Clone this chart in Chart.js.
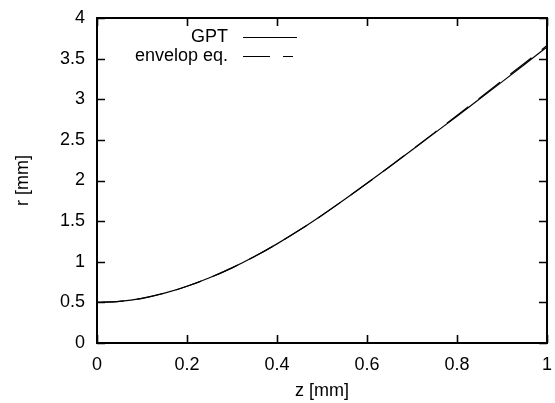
<!DOCTYPE html>
<html>
<head>
<meta charset="utf-8">
<script src="https://cdn.jsdelivr.net/npm/chart.js@4/dist/chart.umd.min.js"></script>
<style>
  html, body { margin: 0; padding: 0; background: #fff; }
  #wrap { width: 555px; height: 403px; }
</style>
</head>
<body>
<div id="wrap"><canvas id="grafico"></canvas></div>
<script>
'use strict';

// beam radius along z (mm)
const zVals = [0, 0.05, 0.1, 0.15, 0.2, 0.25, 0.3, 0.35, 0.4, 0.45, 0.5,
               0.55, 0.6, 0.65, 0.7, 0.75, 0.8, 0.85, 0.9, 0.95, 1];
const rGpt = [0.500, 0.513, 0.550, 0.613, 0.698, 0.803, 0.925, 1.065, 1.220, 1.390, 1.573,
              1.765, 1.965, 2.169, 2.375, 2.583, 2.792, 3.002, 3.214, 3.428, 3.643];
const rEnv = [0.500, 0.513, 0.550, 0.613, 0.698, 0.803, 0.925, 1.065, 1.220, 1.390, 1.573,
              1.765, 1.965, 2.169, 2.378, 2.589, 2.801, 3.014, 3.228, 3.444, 3.661];

const xTicks = [0, 0.2, 0.4, 0.6, 0.8, 1];
const yTicks = [0, 0.5, 1, 1.5, 2, 2.5, 3, 3.5, 4];

const legendItems = ['GPT', 'envelop eq.'];

const FONT = { family: "'Liberation Sans', Arial, sans-serif", size: 18 };

function toPoints(xs, ys) {
  return xs.map((x, i) => ({ x: x, y: ys[i] }));
}

// box round the plot, tick marks pointing inwards on all four sides, gnuplot-like key
const framePlugin = {
  id: 'frame',
  afterDraw(chart) {
    const ctx = chart.ctx;
    const { left, right, top, bottom } = chart.chartArea;
    const sx = chart.scales.x, sy = chart.scales.y;
    const tl = 8;

    ctx.save();
    ctx.strokeStyle = '#000';
    ctx.lineWidth = 1.6;
    ctx.beginPath();
    xTicks.forEach(v => {
      const px = Math.round(sx.getPixelForValue(v)) + 0.5;
      ctx.moveTo(px, bottom); ctx.lineTo(px, bottom - tl);
      ctx.moveTo(px, top); ctx.lineTo(px, top + tl);
    });
    yTicks.forEach(v => {
      const py = Math.round(sy.getPixelForValue(v)) + 0.5;
      ctx.moveTo(left, py); ctx.lineTo(left + tl, py);
      ctx.moveTo(right, py); ctx.lineTo(right - tl, py);
    });
    ctx.stroke();
    ctx.lineWidth = 2;
    ctx.strokeRect(left, top, right - left, bottom - top);

    // key
    ctx.font = FONT.size + 'px ' + FONT.family;
    ctx.fillStyle = '#000';
    ctx.textAlign = 'right';
    ctx.textBaseline = 'middle';
    const textX = left + 131, lineX0 = left + 146, lineX1 = left + 200;
    legendItems.forEach((txt, i) => {
      const y = top + 19 + i * 19;
      ctx.fillText(txt, textX, y);
      ctx.lineWidth = 1.2;
      ctx.setLineDash(i === 0 ? [] : [27, 13]);
      ctx.beginPath();
      ctx.moveTo(lineX0, y + 0.5);
      ctx.lineTo(i === 0 ? lineX1 : lineX1 - 4, y + 0.5);
      ctx.stroke();
    });
    ctx.restore();
  }
};

const ctx = document.getElementById('grafico').getContext('2d');

new Chart(ctx, {
  type: 'line',
  data: {
    datasets: [{
      label: legendItems[0],
      data: toPoints(zVals, rGpt),
      borderColor: '#000',
      borderWidth: 1.2,
      pointRadius: 0,
      cubicInterpolationMode: 'monotone',
      fill: false
    }, {
      label: legendItems[1],
      data: toPoints(zVals, rEnv),
      borderColor: '#000',
      borderWidth: 1.2,
      borderDash: [27, 13],
      pointRadius: 0,
      cubicInterpolationMode: 'monotone',
      fill: false
    }]
  },
  options: {
    responsive: true,
    maintainAspectRatio: false,
    animation: false,
    devicePixelRatio: 1,
    layout: { autoPadding: false, padding: { top: 18, right: 8, left: 0, bottom: 0 } },
    plugins: { legend: { display: false }, tooltip: { enabled: false } },
    scales: {
      x: {
        type: 'linear', min: 0, max: 1,
        grid: { display: false },
        border: { display: false },
        afterBuildTicks: s => { s.ticks = xTicks.map(v => ({ value: v })); },
        afterFit: s => { s.height = 60; },
        ticks: { color: '#000', font: FONT, padding: 3, maxRotation: 0, callback: v => String(v) },
        title: { display: true, text: 'z [mm]', color: '#000', font: FONT, padding: { top: 0, bottom: 1 } }
      },
      y: {
        type: 'linear', min: 0, max: 4,
        grid: { display: false },
        border: { display: false },
        afterBuildTicks: s => { s.ticks = yTicks.map(v => ({ value: v })); },
        afterFit: s => { s.width = 97; },
        ticks: { color: '#000', font: FONT, padding: 4, callback: v => String(v) },
        title: { display: true, text: 'r [mm]', color: '#000', font: FONT, padding: { top: 12, bottom: 0 } }
      }
    }
  },
  plugins: [framePlugin]
});
</script>
</body>
</html>
